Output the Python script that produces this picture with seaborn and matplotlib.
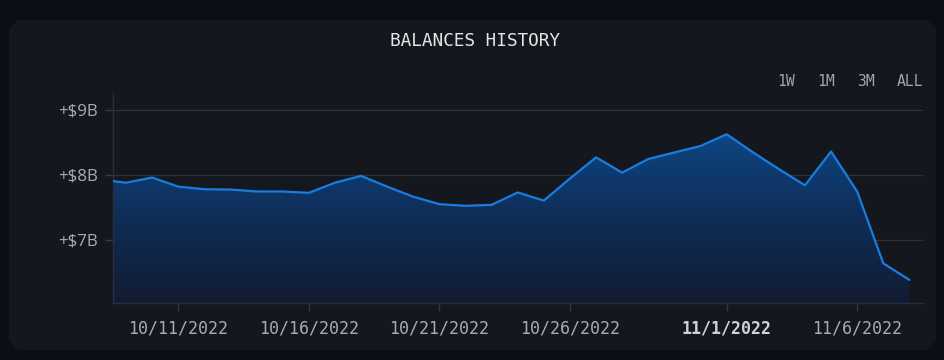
import numpy as np
import pandas as pd
import matplotlib
matplotlib.use("Agg")
import matplotlib.pyplot as plt
import matplotlib.dates as mdates
from matplotlib.colors import LinearSegmentedColormap
from matplotlib.patches import Polygon
import seaborn as sns

# ---- data ----
dates = ["2022-10-08", "2022-10-09", "2022-10-10", "2022-10-11", "2022-10-12",
         "2022-10-13", "2022-10-14", "2022-10-15", "2022-10-16", "2022-10-17",
         "2022-10-18", "2022-10-19", "2022-10-20", "2022-10-21", "2022-10-22",
         "2022-10-23", "2022-10-24", "2022-10-25", "2022-10-26", "2022-10-27",
         "2022-10-28", "2022-10-29", "2022-10-30", "2022-10-31", "2022-11-01",
         "2022-11-02", "2022-11-03", "2022-11-04", "2022-11-05", "2022-11-06",
         "2022-11-07", "2022-11-08"]
balances_b = [7.93, 7.88, 7.96, 7.82, 7.78,
              7.775, 7.745, 7.745, 7.725, 7.88,
              7.985, 7.82, 7.665, 7.55, 7.525,
              7.54, 7.73, 7.605, 7.945, 8.27,
              8.035, 8.245, 8.345, 8.445, 8.625,
              8.35, 8.09, 7.84, 8.36, 7.745,
              6.64, 6.385]
y_ticks = [7, 8, 9]
y_tick_labels = ["+$7B", "+$8B", "+$9B"]
x_tick_dates = ["2022-10-11", "2022-10-16", "2022-10-21", "2022-10-26", "2022-11-01", "2022-11-06"]
x_tick_labels = ["10/11/2022", "10/16/2022", "10/21/2022", "10/26/2022", "11/1/2022", "11/6/2022"]
range_buttons = ["1W", "1M", "3M", "ALL"]
title = "BALANCES HISTORY"

df = pd.DataFrame({"date": pd.to_datetime(dates), "balance": balances_b})

# ---- style ----
OUTER = "#0b0e15"
CARD = "#15171f"
LINE = "#187ddf"
GRID = "#303238"
SPINE = "#2b2d3e"
TICKC = "#ababaf"

sns.set_theme(style="dark")
plt.rcParams["font.family"] = ["DejaVu Sans Mono"]

W, H = 944, 360
fig = plt.figure(figsize=(W / 100, H / 100), dpi=100, facecolor=OUTER)

# card with chamfered corners (pixel coords -> figure coords)
cx0, cx1, cy0, cy1, c = 9, 936, 20, 350, 9
pts = [(cx0 + c, cy0), (cx1 - c, cy0), (cx1, cy0 + c), (cx1, cy1 - c),
       (cx1 - c, cy1), (cx0 + c, cy1), (cx0, cy1 - c), (cx0, cy0 + c)]
pts = [(x / W, 1 - y / H) for x, y in pts]
fig.patches.append(Polygon(pts, closed=True, transform=fig.transFigure,
                           facecolor=CARD, edgecolor="none", zorder=-10))

# axes placement
L, R, T, B = 113, 923, 93, 303
ax = fig.add_axes([L / W, 1 - B / H, (R - L) / W, (B - T) / H])
ax.set_zorder(5)
ax.set_facecolor(CARD)

xmin = pd.Timestamp("2022-10-08 12:00")
xmax = pd.Timestamp("2022-11-08 12:30")
ymin, ymax = 6.03, 9.26

# gradient fill under the line, clipped to the area below the data
xnum = mdates.date2num(df["date"])
verts = list(zip(xnum, df["balance"])) + [(xnum[-1], ymin), (xnum[0], ymin)]
clip = Polygon(verts, closed=True, transform=ax.transData, facecolor="none", edgecolor="none")
ax.add_patch(clip)
cmap = LinearSegmentedColormap.from_list("g", ["#121c31", "#0f2d58", "#0d4886"])
grad = np.linspace(0, 1, 256).reshape(-1, 1)
im = ax.imshow(grad, extent=[xnum.min(), xnum.max(), ymin, 8.7], origin="lower",
               aspect="auto", cmap=cmap, zorder=1, interpolation="bicubic")
im.set_clip_path(clip)

sns.lineplot(data=df, x="date", y="balance", ax=ax, color=LINE, linewidth=1.6, zorder=3)

ax.set_xlim(xmin, xmax)
ax.set_ylim(ymin, ymax)
ax.set_xlabel("")
ax.set_ylabel("")

ax.set_yticks(y_ticks)
ax.set_yticklabels(y_tick_labels, fontsize=12.2, color=TICKC, family=["Open Sans", "DejaVu Sans"])
ax.set_xticks(pd.to_datetime(x_tick_dates))
ax.set_xticklabels(x_tick_labels, fontsize=12, color=TICKC)
for lab in ax.get_xticklabels():
    if lab.get_text() == "11/1/2022":
        lab.set_fontweight("bold")
        lab.set_color("#d2d2d6")

ax.tick_params(axis="y", length=6, width=1, color="#34364a", pad=5, left=True)
ax.tick_params(axis="x", length=6, width=1, color="#34364a", pad=6, bottom=True)
ax.grid(axis="y", color=GRID, linewidth=0.9)
ax.grid(axis="x", visible=False)
for s in ["top", "right"]:
    ax.spines[s].set_visible(False)
for s in ["left", "bottom"]:
    ax.spines[s].set_visible(True)
    ax.spines[s].set_color(SPINE)
    ax.spines[s].set_linewidth(1.0)

# title and range buttons
fig.text(475 / W, 1 - 41 / H, title, ha="center", va="center",
         fontsize=12.8, color="#e4e4e6")
for lbl, xl in zip(range_buttons, [777, 817, 857, 897]):
    fig.text(xl / W, 1 - 82 / H, lbl, ha="left", va="center",
             fontsize=10.6, color="#a3a3a8")

fig.savefig("out.png", dpi=100, facecolor=OUTER)
